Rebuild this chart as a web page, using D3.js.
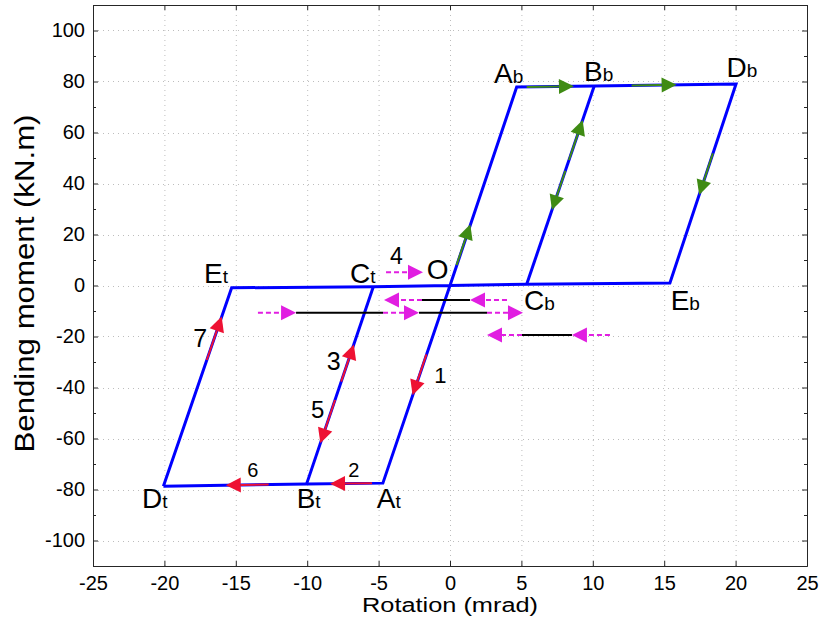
<!DOCTYPE html>
<html>
<head>
<meta charset="utf-8">
<script src="https://cdn.jsdelivr.net/npm/d3@7"></script>
<style>
  body { margin: 0; background: #fff; }
  text { font-family: "Liberation Sans", Arial, sans-serif; fill: #000; }
</style>
</head>
<body>
<div id="main"></div>
<script>
const w = 820, h = 631
const margin = {left: 93, right: 13, top: 5, bottom: 65}

// corner points of the hysteresis loop (rotation mrad, moment kN.m)
const pointNames = ['O', 'At', 'Bt', 'Dt', 'Et', 'Ct', 'Cb', 'Eb', 'Ab', 'Bb', 'Db']
const pointX = [0, -4.7, -10.04, -20.07, -15.29, -5.37, 5.37, 15.4, 4.67, 10.1, 20.03]
const pointY = [0, -77.5, -77.8, -78.7, -0.9, -0.5, 0.5, 1.0, 77.8, 78.2, 79.0]

// blue branches, as sequences of point names
const branches = [
  ['Dt', 'Bt', 'At', 'O', 'Ab', 'Bb', 'Db', 'Eb', 'Cb', 'O', 'Ct', 'Et', 'Dt'],
  ['Bt', 'Ct'],
  ['Cb', 'Bb']
]

// loading path arrows: tail x, tail y, tip x, tip y
const redArrows = [
  [-1.65, -27, -2.62, -43],
  [-5.46, -77.54, -8.4, -77.71],
  [-12.7, -78.03, -15.7, -78.3],
  [-7.62, -37.7, -6.735, -23.1],
  [-8.05, -44.9, -9.08, -61.9],
  [-17.03, -29.2, -15.99, -12.2]
]
const greenArrows = [
  [0.46, 8, 1.42, 24],
  [5.37, 77.85, 8.68, 78.1],
  [12.72, 78.4, 15.87, 78.7],
  [8.33, 49.2, 9.29, 64.9],
  [8.08, 45, 7.14, 29.6],
  [18.41, 51.8, 17.45, 35.5]
]
// dashed arrows: tail x, tip x, y
const dashArrows = [
  [-4.48, -1.89, 5.2],
  [3.99, 1.4, -5.7],
  [-1.96, -4.62, -5.7],
  [-13.45, -10.78, -10.7],
  [-4.69, -2.17, -10.7],
  [2.59, 5.11, -10.7],
  [11.2, 8.54, -19.4],
  [5.04, 2.59, -19.4]
]
// black segments: x1, x2, y
const blackSegs = [
  [1.4, -1.96, -5.7],
  [-10.78, -4.69, -10.7],
  [-2.17, 2.59, -10.7],
  [8.54, 5.04, -19.4]
]

// point labels: main letter, subscript, x, y (anchor, data units)
const labels = [
  ['A', 'b', 3.08, 79.4], ['B', 'b', 9.38, 80.2], ['D', 'b', 19.37, 81.9],
  ['E', 't', -17.23, 0.86], ['C', 't', -7.0, 1.0], ['O', '', -1.63, 2.4],
  ['C', 'b', 5.18, -9.6], ['E', 'b', 15.45, -9.6],
  ['D', 't', -21.57, -87.4], ['B', 't', -10.74, -87.3], ['A', 't', -5.13, -87.3]
]
// step numbers: text, x, y
const steps = [
  ['1', -1.1, -38.4], ['2', -7.12, -75.2], ['3', -8.63, -33.1], ['4', -4.2, 8.4],
  ['5', -9.73, -52.1], ['6', -14.2, -75.0], ['7', -17.98, -24.0]
]
const stepSizes = [22, 20, 25, 23, 24, 20, 25]

const xTicks = [-25, -20, -15, -10, -5, 0, 5, 10, 15, 20, 25]
const yTicks = [-100, -80, -60, -40, -20, 0, 20, 40, 60, 80, 100]
const yMinor = [-110, -90, -70, -50, -30, -10, 10, 30, 50, 70, 90, 110]

const svg = d3.select('#main')
  .append('svg')
  .attr('width', w)
  .attr('height', h)

const x = d3.scaleLinear().domain([-25, 25]).range([margin.left, w - margin.right])
const y = d3.scaleLinear().domain([-110, 110]).range([h - margin.bottom, margin.top])

const pts = {}
pointNames.forEach((n, i) => { pts[n] = [pointX[i], pointY[i]] })

//grid
const grid = svg.append('g').attr('stroke', '#bdbdbd').attr('stroke-width', 1).attr('stroke-dasharray', '1,4')
grid.selectAll('.gx').data(xTicks.slice(1, -1)).enter().append('line')
  .attr('x1', d => x(d) + 0.5).attr('x2', d => x(d) + 0.5)
  .attr('y1', y(110)).attr('y2', y(-110))
grid.selectAll('.gy').data(yTicks).enter().append('line')
  .attr('y1', d => Math.round(y(d)) + 0.5).attr('y2', d => Math.round(y(d)) + 0.5)
  .attr('x1', x(-25)).attr('x2', x(25))

//axes, ticks inward like matlab
const axCol = '#262626'
const fmt = d => String(d)
const xAxis = d3.axisBottom(x).tickValues(xTicks).tickFormat(fmt).tickSize(-5).tickPadding(10).tickSizeOuter(0)
svg.append('g')
  .attr('transform', 'translate(0,' + y(-110) + ')')
  .call(xAxis)
const yAxis = d3.axisLeft(y).tickValues(yTicks).tickFormat(fmt).tickSize(-5).tickPadding(8).tickSizeOuter(0)
svg.append('g')
  .attr('transform', 'translate(' + x(-25) + ',0)')
  .call(yAxis)
svg.append('g').attr('transform', 'translate(0,' + y(110) + ')')
  .call(d3.axisTop(x).tickValues(xTicks).tickSize(-5).tickFormat('').tickSizeOuter(0))
svg.append('g').attr('transform', 'translate(' + x(25) + ',0)')
  .call(d3.axisRight(y).tickValues(yTicks).tickSize(-5).tickFormat('').tickSizeOuter(0))
svg.append('g').attr('transform', 'translate(' + x(-25) + ',0)')
  .call(d3.axisLeft(y).tickValues(yMinor).tickSize(-3).tickFormat('').tickSizeOuter(0))
svg.append('g').attr('transform', 'translate(' + x(25) + ',0)')
  .call(d3.axisRight(y).tickValues(yMinor).tickSize(-3).tickFormat('').tickSizeOuter(0))
svg.selectAll('.domain, .tick line').attr('stroke', axCol)
svg.selectAll('.tick text').style('font-size', '20px').attr('fill', '#000')

//branches
const line = d3.line().x(d => x(pts[d][0])).y(d => y(pts[d][1]))
svg.append('g').selectAll('path').data(branches).enter().append('path')
  .attr('d', line)
  .attr('fill', 'none')
  .attr('stroke', '#0000ff')
  .attr('stroke-width', 3)
  .attr('stroke-linejoin', 'miter')

//arrows
function arrow(g, x1, y1, x2, y2, col, dashed) {
  const px1 = x(x1), py1 = y(y1), px2 = x(x2), py2 = y(y2)
  const len = Math.hypot(px2 - px1, py2 - py1)
  const ux = (px2 - px1) / len, uy = (py2 - py1) / len
  const L = 15, hw = 7.5
  const bx = px2 - ux * L, by = py2 - uy * L
  g.append('line')
    .attr('x1', px1).attr('y1', py1).attr('x2', bx).attr('y2', by)
    .attr('stroke', col).attr('stroke-width', 2)
    .attr('stroke-dasharray', dashed ? '5,3' : null)
  g.append('path')
    .attr('d', `M${px2},${py2}L${bx - uy * hw},${by + ux * hw}L${bx + uy * hw},${by - ux * hw}Z`)
    .attr('fill', col)
}

const ag = svg.append('g')
blackSegs.forEach(s => {
  ag.append('line')
    .attr('x1', x(s[0])).attr('x2', x(s[1]))
    .attr('y1', y(s[2])).attr('y2', y(s[2]))
    .attr('stroke', '#000').attr('stroke-width', 2)
})
dashArrows.forEach(a => arrow(ag, a[0], a[2], a[1], a[2], '#e11ee1', true))
redArrows.forEach(a => arrow(ag, a[0], a[1], a[2], a[3], '#ee1133', false))
greenArrows.forEach(a => arrow(ag, a[0], a[1], a[2], a[3], '#3f8b14', false))

//labels
labels.forEach(l => {
  const t = svg.append('text')
    .attr('x', x(l[2]))
    .attr('y', y(l[3]))
    .style('font-size', '28px')
  t.append('tspan').text(l[0])
  t.append('tspan').text(l[1]).style('font-size', '19px')
})
steps.forEach((s, i) => {
  svg.append('text')
    .attr('x', x(s[1]))
    .attr('y', y(s[2]))
    .text(s[0])
    .style('font-size', stepSizes[i] + 'px')
})

//axis titles
svg.append('text')
  .text('Rotation (mrad)')
  .attr('x', x(0))
  .attr('y', 612)
  .attr('text-anchor', 'middle')
  .attr('textLength', 176)
  .attr('lengthAdjust', 'spacingAndGlyphs')
  .style('font-size', '20px')

svg.append('text')
  .text('Bending moment (kN.m)')
  .attr('transform', 'translate(34,' + (y(0) - 2) + ') rotate(-90)')
  .attr('text-anchor', 'middle')
  .attr('textLength', 338)
  .attr('lengthAdjust', 'spacingAndGlyphs')
  .style('font-size', '28px')
</script>
</body>
</html>
